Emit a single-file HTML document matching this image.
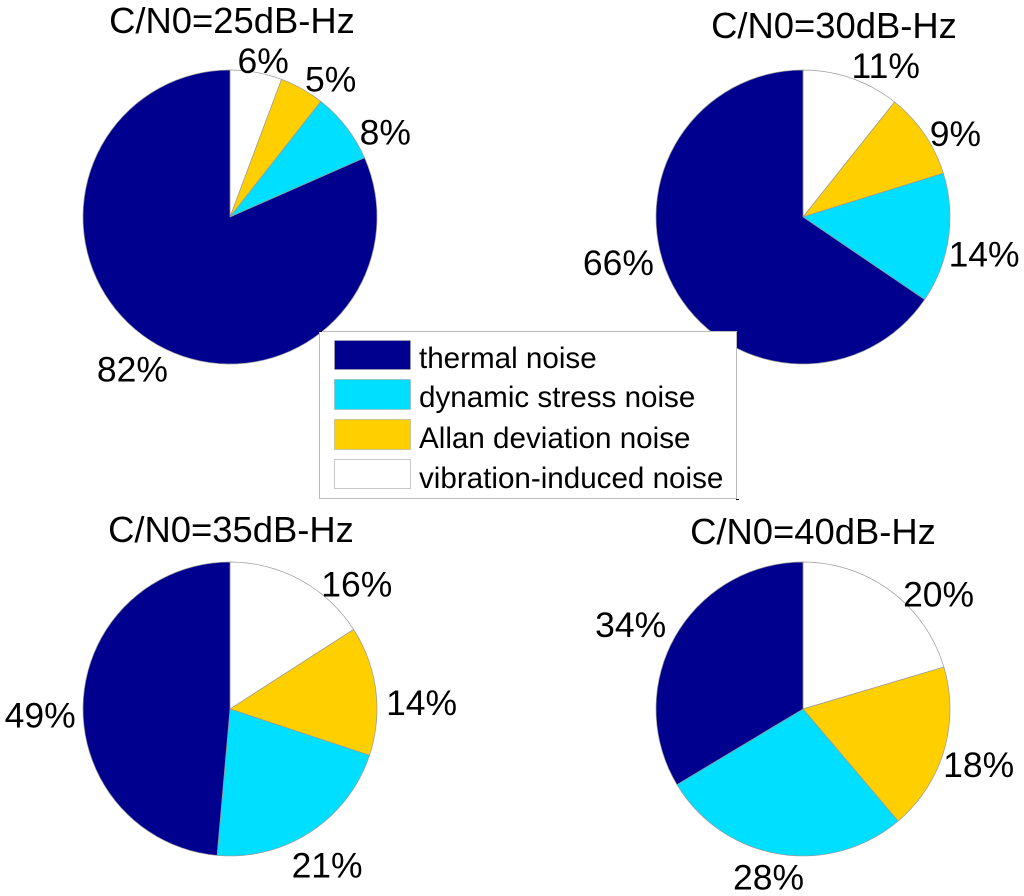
<!DOCTYPE html>
<html lang="en">
<head>
<meta charset="utf-8">
<title>Noise contribution pie charts</title>
<style>
  html, body { margin: 0; padding: 0; background: #fff; }
  #chart { display: block; width: 1024px; height: 896px; }
  text { font-family: "Liberation Sans", sans-serif; fill: #000; }
  .title { font-size: 36.4px; text-anchor: middle; }
  .pct { font-size: 35.5px; text-anchor: middle; }
  .legend-text { font-size: 29.6px; }
</style>
</head>
<body>
<svg id="chart" xmlns="http://www.w3.org/2000/svg" width="1024" height="896" viewBox="0 0 1024 896">
  <g id="pies"></g>
  <g>
    <rect x="319.5" y="331.5" width="417" height="167" fill="#fff" stroke="#bbb" stroke-width="1"/>
    <rect x="319" y="331" width="3" height="1" fill="#000"/>
    <rect x="736" y="499" width="3" height="1" fill="#000"/>
    <rect x="334.5" y="340.5" width="76" height="29" fill="#00008f" stroke="#aaa" stroke-width="0.6"/>
    <text class="legend-text" x="419" y="368">thermal noise</text>
    <rect x="334.5" y="379.5" width="76" height="30" fill="#00dfff" stroke="#aaa" stroke-width="0.6"/>
    <text class="legend-text" x="419" y="407">dynamic stress noise</text>
    <rect x="334.5" y="419.5" width="76" height="30" fill="#ffcf00" stroke="#aaa" stroke-width="0.6"/>
    <text class="legend-text" x="419" y="448">Allan deviation noise</text>
    <rect x="334.5" y="459.5" width="76" height="29" fill="#fff" stroke="#bbb" stroke-width="0.8"/>
    <text class="legend-text" x="419" y="488">vibration-induced noise</text>
  </g>
</svg>
<script>
// Data: percentage shares per C/N0 level.
const levels = [25, 30, 35, 40];
const vibration = [5.7, 10.7, 15.9, 20.4];
const allan = [4.9, 9.49, 14.2, 18.4];
const dynamicStress = [7.8, 14.3, 21.3, 27.6];
const thermal = [81.6, 65.51, 48.6, 33.6];

// Layout (not data)
const RADIUS = 147;
const LABEL_RADIUS = 175;
const centers = [{x: 230, y: 217}, {x: 803, y: 217}, {x: 230, y: 709}, {x: 803, y: 709}];
const titleAnchors = [{x: 232, y: 33}, {x: 834, y: 38}, {x: 231, y: 542}, {x: 813, y: 544}];
const labelNudges = [
  [[2, 17], [15, 16], [17, 24], [-2, 7]],
  [[25, 15], [8, 17], [8, 13], [-30, -35]],
  [[43, 30], [18, 17], [1, 11], [-15, 15]],
  [[31, 27], [8, 7], [-6, -3], [-20, 3]]
];
const sliceKeys = ['vibration', 'allan', 'dynamic-stress', 'thermal'];
const sliceFills = ['#ffffff', '#ffcf00', '#00dfff', '#00008f'];
const sliceSeries = [vibration, allan, dynamicStress, thermal];

const SVG_NS = 'http://www.w3.org/2000/svg';
const root = document.getElementById('pies');

function polar(center, radius, fraction) {
  const a = fraction * 2 * Math.PI;
  return [center.x + radius * Math.sin(a), center.y - radius * Math.cos(a)];
}

levels.forEach(function (level, i) {
  const center = centers[i];
  const group = document.createElementNS(SVG_NS, 'g');
  
  
  root.appendChild(group);

  const title = document.createElementNS(SVG_NS, 'text');
  
  
  title.setAttribute('class', 'title');
  title.setAttribute('x', titleAnchors[i].x);
  title.setAttribute('y', titleAnchors[i].y);
  title.textContent = 'C/N0=' + level + 'dB-Hz';
  group.appendChild(title);

  const total = sliceSeries.reduce(function (sum, s) { return sum + s[i]; }, 0);
  let start = 0;
  sliceSeries.forEach(function (series, j) {
    const share = series[i] / total;
    const steps = Math.max(1, Math.ceil(share * 100));
    const pts = [[center.x, center.y]];
    for (let k = 0; k <= steps; k++) {
      pts.push(polar(center, RADIUS, start + share * k / steps));
    }
    const slice = document.createElementNS(SVG_NS, 'polygon');
    
    
    slice.setAttribute('points', pts.map(function (p) { return p[0].toFixed(2) + ',' + p[1].toFixed(2); }).join(' '));
    slice.setAttribute('fill', sliceFills[j]);
    slice.setAttribute('stroke', '#999');
    slice.setAttribute('stroke-width', '0.7');
    slice.setAttribute('stroke-linejoin', 'round');
    group.appendChild(slice);

    const pos = polar(center, LABEL_RADIUS, start + share / 2);
    const nudge = labelNudges[i][j];
    const label = document.createElementNS(SVG_NS, 'text');
    
    
    label.setAttribute('class', 'pct');
    label.setAttribute('x', (pos[0] + nudge[0]).toFixed(1));
    label.setAttribute('y', (pos[1] + nudge[1] + 11).toFixed(1));
    label.textContent = Math.round(series[i]) + '%';
    group.appendChild(label);

    start += share;
  });
});
</script>
</body>
</html>
